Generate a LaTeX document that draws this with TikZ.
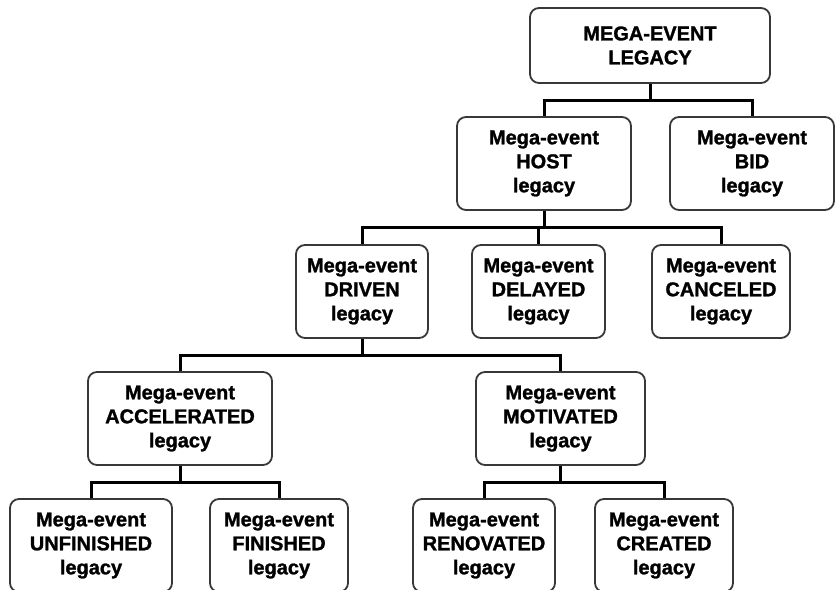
\documentclass[tikz,border=0pt]{standalone}
\usepackage{fontspec}
\setmainfont{Liberation Sans}[BoldFeatures={FakeBold=1.3}]
\begin{document}
\begin{tikzpicture}[x=1pt,y=-1pt,
  legbox/.style={draw=black!78, line width=1.8pt, rounded corners=9pt, fill=white,
    align=center, inner sep=0pt, font=\fontsize{20}{24}\selectfont\bfseries,
    minimum height=93pt},
  link/.style={draw=black, line width=3pt}]
\useasboundingbox (0,0) rectangle (835,589);
\clip (0,0) rectangle (835,589);
% level 0
\node[legbox, minimum width=240pt, minimum height=75pt] (top) at (650,45.5) {MEGA-EVENT\\LEGACY};
% level 1
\node[legbox, minimum width=174pt] (host) at (544,163.5) {Mega-event\\HOST\\legacy};
\node[legbox, minimum width=164pt] (bid) at (752,163.5) {Mega-event\\BID\\legacy};
% level 2
\node[legbox, minimum width=132pt] (driven) at (362,291.5) {Mega-event\\DRIVEN\\legacy};
\node[legbox, minimum width=133pt] (delayed) at (538.5,291.5) {Mega-event\\DELAYED\\legacy};
\node[legbox, minimum width=138pt] (canceled) at (721,291.5) {Mega-event\\CANCELED\\legacy};
% level 3
\node[legbox, minimum width=184pt] (accel) at (180,418.5) {Mega-event\\ACCELERATED\\legacy};
\node[legbox, minimum width=169pt] (motiv) at (560.5,418.5) {Mega-event\\MOTIVATED\\legacy};
% level 4
\node[legbox, minimum width=162pt] (unfin) at (91,545.5) {Mega-event\\UNFINISHED\\legacy};
\node[legbox, minimum width=138pt] (fin) at (279,545.5) {Mega-event\\FINISHED\\legacy};
\node[legbox, minimum width=142pt] (renov) at (484,545.5) {Mega-event\\RENOVATED\\legacy};
\node[legbox, minimum width=138pt] (created) at (664,545.5) {Mega-event\\CREATED\\legacy};
% tree connectors
\foreach \p/\c in {top/host, top/bid,
                   host/driven, host/delayed, host/canceled,
                   driven/accel, driven/motiv,
                   accel/unfin, accel/fin,
                   motiv/renov, motiv/created}
  \draw[link] (\p.south) -- ++(0,16.5) -| (\c.north);
\end{tikzpicture}
\end{document}
